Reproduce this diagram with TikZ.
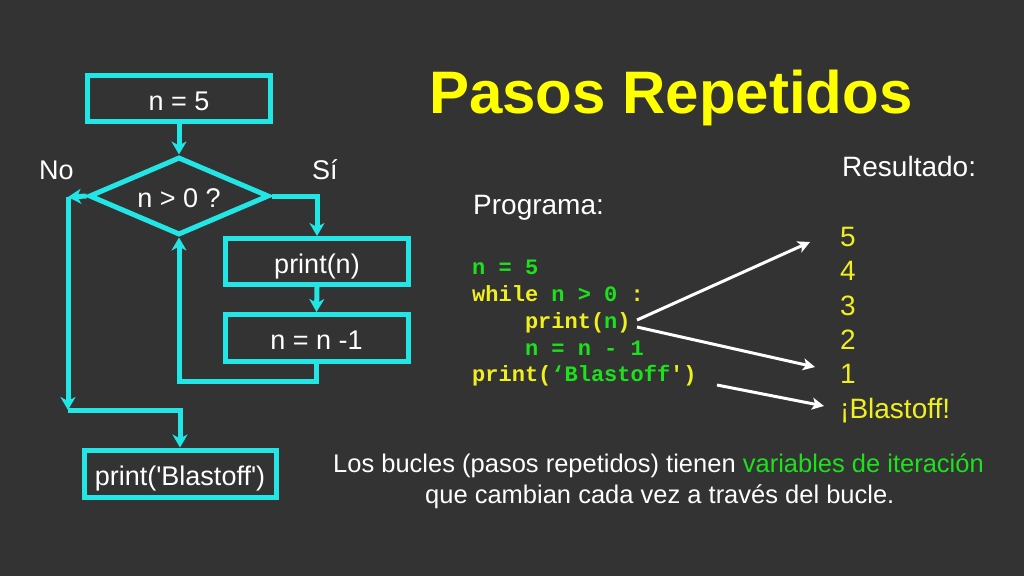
\documentclass[tikz,border=0pt]{standalone}
\usepackage{fontspec}
\setmainfont{Liberation Sans}
\setmonofont{Liberation Mono}
\usetikzlibrary{shapes.geometric,arrows.meta}
\definecolor{bg}{RGB}{51,51,51}
\definecolor{cy}{RGB}{34,230,230}
\definecolor{yl}{RGB}{255,255,0}
\definecolor{cyl}{RGB}{240,240,30}
\definecolor{gr}{RGB}{30,225,30}
\tikzset{
  box/.style={draw=cy, line width=5pt, minimum width=183pt, minimum height=46pt,
    inner sep=0pt, text=white, font=\fontsize{27}{32}\selectfont,
    text height=23pt, text depth=0pt},
  decbox/.style={diamond, aspect=2.3, draw=cy, line width=5pt, minimum width=180pt,
    minimum height=78pt, inner sep=0pt, text=white, font=\fontsize{27}{32}\selectfont,
    text height=23pt, text depth=0pt},
  flow/.style={draw=cy, line width=5pt, -{Stealth[length=13pt,width=15pt,inset=4pt]}},
  lbl/.style={inner sep=0pt, anchor=base west, text=white},
  codeln/.style={inner sep=0pt, anchor=base west, font=\fontsize{22}{26}\selectfont\ttfamily\bfseries},
  outnum/.style={inner sep=0pt, anchor=base west, text=cyl, font=\fontsize{28}{33}\selectfont},
  outarr/.style={draw=white, line width=3pt, -{Stealth[length=12pt,width=12pt,inset=3pt]}}
}
\begin{document}
\begin{tikzpicture}[x=1pt,y=-1pt]
\fill[bg] (0,0) rectangle (1024,576);
\useasboundingbox (0,0) rectangle (1024,576);

% flowchart
\node[box] (n5) at (179,98.5) {n = 5};
\node[decbox] (dec) at (179,196) {n > 0 ?};
\node[box] (pn) at (317,261.5) {print(n)};
\node[box, minimum height=47pt] (nn) at (316.5,338) {n = n -1};
\node[box, minimum width=192pt, minimum height=47pt] (bl) at (180,473.5) {print(\textquotesingle Blastoff\textquotesingle)};

\node[lbl, font=\fontsize{27}{32}\selectfont] (no) at (39,179) {No};
\node[lbl, font=\fontsize{27}{32}\selectfont] (si) at (312,179) {Sí};

\coordinate (nl) at (68,197);
\coordinate (nb) at (68,410);
\coordinate (lp) at (179,381);

\draw[flow] (n5.south) -- (dec.north);
\draw[flow] (dec.west) -- (nl);
\draw[flow] (nl) -- (nb);
\draw[flow] (nb) -| (bl.north);
\draw[flow] (dec.east) -| (pn.north);
\draw[flow] (pn.south) -- (nn.north);
\draw[flow] (nn.south) |- (lp) -- (dec.south);

% title and headings
\node[inner sep=0pt, anchor=base west, text=yl, font=\fontsize{60}{72}\selectfont\bfseries] (title) at (429,113) {Pasos Repetidos};
\node[lbl, font=\fontsize{28}{33}\selectfont] (res) at (842,176) {Resultado:};
\node[lbl, font=\fontsize{28}{33}\selectfont] (prog) at (473,214) {Programa:};

% code
\node[codeln] (c1) at (472,274) {\color{gr}n = 5};
\node[codeln] (c2) at (472,301) {\color{cyl}while \color{gr}n > 0 \color{cyl}:};
\node[codeln] (c3) at (524.8,328) {\color{cyl}print(\color{gr}n\color{cyl})};
\node[codeln] (c4) at (524.8,355) {\color{gr}n = n - 1};
\node[codeln] (c5) at (472,381) {\color{cyl}print(\color{gr}‘Blastoff\color{cyl}')};

% output
\node[outnum] (r5) at (840,246) {5};
\node[outnum] (r4) at (840,280) {4};
\node[outnum] (r3) at (840,315) {3};
\node[outnum] (r2) at (840,349) {2};
\node[outnum] (r1) at (840,383) {1};
\node[outnum] (rb) at (840,418) {¡Blastoff!};

\coordinate (a1s) at (637,320);
\coordinate (a1e) at (810,242);
\coordinate (a2s) at (637,327);
\coordinate (a2e) at (815,367);
\coordinate (a3s) at (717,385);
\coordinate (a3e) at (824,406);
\draw[outarr] (a1s) -- (a1e);
\draw[outarr] (a2s) -- (a2e);
\draw[outarr] (a3s) -- (a3e);

% bottom text
\node[lbl, font=\fontsize{25.5}{30}\selectfont] (b1) at (333,472) {Los bucles (pasos repetidos) tienen \textcolor{gr}{variables de iteración}};
\node[lbl, font=\fontsize{25.5}{30}\selectfont] (b2) at (425,503) {que cambian cada vez a través del bucle.};
\end{tikzpicture}
\end{document}
